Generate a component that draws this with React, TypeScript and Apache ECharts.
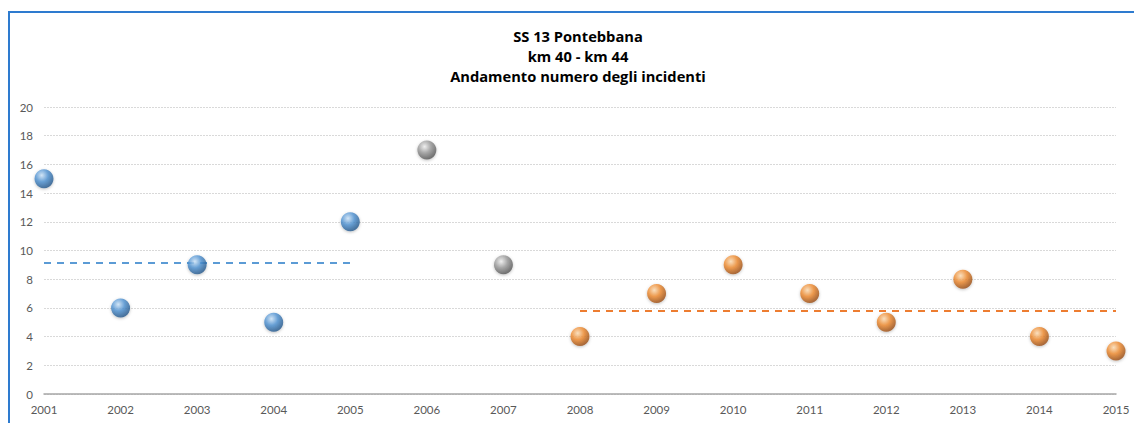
import React, { useEffect, useRef } from "react";
import * as echarts from "echarts";

const titleLines = ["SS 13 Pontebbana", "km 40 - km 44", "Andamento numero degli incidenti"];
const blueYears = [2001, 2002, 2003, 2004, 2005];
const blueValues = [15, 6, 9, 5, 12];
const greyYears = [2006, 2007];
const greyValues = [17, 9];
const orangeYears = [2008, 2009, 2010, 2011, 2012, 2013, 2014, 2015];
const orangeValues = [4, 7, 9, 7, 5, 8, 4, 3];
const blueAvg = 9.13;
const blueAvgRange = [2001, 2005];
const orangeAvg = 5.78;
const orangeAvgRange = [2008, 2015];

function sphere(light: string, mid: string, dark: string) {
  return new echarts.graphic.RadialGradient(0.38, 0.32, 0.75, [
    { offset: 0, color: light },
    { offset: 0.45, color: mid },
    { offset: 1, color: dark },
  ]);
}

export default function App() {
  const ref = useRef<HTMLDivElement>(null);
  useEffect(() => {
    document.body.style.margin = "0";
    document.body.style.overflow = "hidden";
    if (!ref.current) return;
    const chart = echarts.init(ref.current, undefined, { renderer: "svg" });
    const zip = (xs: number[], ys: number[]) => xs.map((x, i) => [x, ys[i]]);
    const scatterCommon = {
      type: "scatter" as const,
      symbol: "circle",
      symbolSize: 19,
      clip: false,
    };
    chart.setOption({
      animation: false,
      backgroundColor: "#ffffff",
      title: {
        text: titleLines.join("\n"),
        left: 578,
        top: 26,
        padding: 0,
        textAlign: "center",
        textStyle: {
          fontFamily: "Open Sans",
          fontWeight: "bold",
          fontSize: 14.7,
          lineHeight: 20,
          color: "#000000",
        },
      },
      graphic: [
        { type: "line", shape: { x1: 8, y1: 12, x2: 1134, y2: 12 }, style: { stroke: "#2E7BCF", lineWidth: 2 } },
        { type: "line", shape: { x1: 9, y1: 11, x2: 9, y2: 423 }, style: { stroke: "#2E7BCF", lineWidth: 2 } },
      ],
      grid: { left: 44, right: 18, top: 107, bottom: 29, containLabel: false },
      xAxis: {
        type: "value",
        min: 2001,
        max: 2015,
        interval: 1,
        axisLine: { show: true, lineStyle: { color: "#a6a6a6", width: 1.5 } },
        axisTick: { show: false },
        splitLine: { show: false },
        axisLabel: {
          formatter: (v: number) => String(v),
          color: "#595959",
          fontFamily: "Lato",
          fontSize: 11.5,
          margin: 9,
          showMinLabel: true,
          showMaxLabel: true,
        },
      },
      yAxis: {
        type: "value",
        min: 0,
        max: 20,
        interval: 2,
        axisLine: { show: false },
        axisTick: { show: false },
        splitLine: { show: true, lineStyle: { color: "#d9d9d9", type: [2, 1], width: 1 } },
        axisLabel: { color: "#595959", fontFamily: "Lato", fontSize: 11.5, margin: 11 },
      },
      series: [
        {
          type: "line",
          data: [[blueAvgRange[0], blueAvg], [blueAvgRange[1], blueAvg]],
          showSymbol: false,
          symbol: "none",
          lineStyle: { color: "#5B9BD5", width: 2, type: [7, 6] },
          z: 1,
        },
        {
          type: "line",
          data: [[orangeAvgRange[0], orangeAvg], [orangeAvgRange[1], orangeAvg]],
          showSymbol: false,
          symbol: "none",
          lineStyle: { color: "#ED7D31", width: 2, type: [7, 6] },
          z: 1,
        },
        {
          ...scatterCommon,
          data: zip(blueYears, blueValues),
          itemStyle: {
            color: sphere("#cfe6fb", "#4f92d2", "#1d4d7e"),
            shadowColor: "rgba(0,0,0,0.3)",
            shadowBlur: 3,
            shadowOffsetY: 1,
          },
          z: 3,
        },
        {
          ...scatterCommon,
          data: zip(greyYears, greyValues),
          itemStyle: {
            color: sphere("#f2f2f2", "#9a9a9a", "#4a4a4a"),
            shadowColor: "rgba(0,0,0,0.3)",
            shadowBlur: 3,
            shadowOffsetY: 1,
          },
          z: 3,
        },
        {
          ...scatterCommon,
          data: zip(orangeYears, orangeValues),
          itemStyle: {
            color: sphere("#ffe0b8", "#ef8a2e", "#8a4210"),
            shadowColor: "rgba(0,0,0,0.3)",
            shadowBlur: 3,
            shadowOffsetY: 1,
          },
          z: 3,
        },
      ],
    });
    return () => chart.dispose();
  }, []);
  return <div ref={ref} style={{ width: 1134, height: 423 }} />;
}
